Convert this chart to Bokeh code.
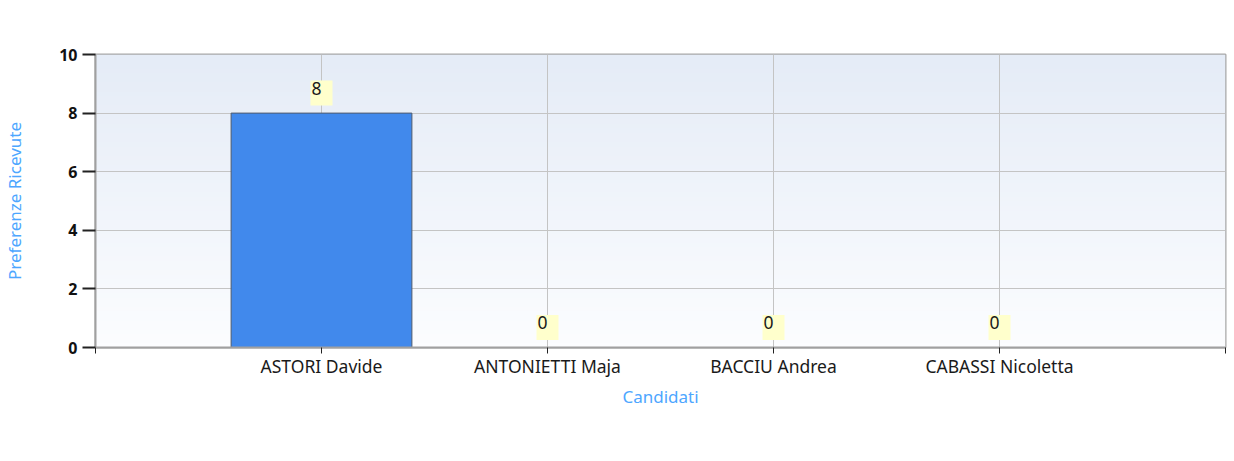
import numpy as np
from bokeh.plotting import figure
from bokeh.models import (ColumnDataSource, FixedTicker, Legend, LegendItem, Range1d, Label)
from bokeh.core.properties import value
from bokeh.embed import file_html
from bokeh.resources import INLINE

# ---- data ----
categories = ["ASTORI Davide", "ANTONIETTI Maja", "BACCIU Andrea", "CABASSI Nicoletta"]
votes = [8, 0, 0, 0]
y_ticks = [0, 2, 4, 6, 8, 10]
title_text = "Grafico dei Risultati"
x_title = "Candidati"
y_title = "Preferenze Ricevute"
series_name = "Voti Ricevuti"

FONT = "Noto Sans"
FS = "17.5px"
BLUE_T = "#4da6ff"
YMAX = 10

xs = list(range(1, len(categories) + 1))
src = ColumnDataSource(dict(x=xs, v=votes, lab=[str(v) for v in votes], name=categories))

p = figure(frame_width=1130, frame_height=293, output_backend="svg", toolbar_location=None,
           x_range=Range1d(0, len(categories) + 1), y_range=Range1d(0, YMAX),
           min_border_left=94, min_border_right=2, min_border_top=54, min_border_bottom=110)
p.title.visible = False
p.background_fill_color = "#ffffff"
p.border_fill_color = "#ffffff"
p.outline_line_color = "#a8a8a8"
p.outline_line_width = 2

# gradient background of plot area
n = 64
t = np.linspace(0, 1, n)[:, None]  # 0 bottom -> 1 top
top = np.array([229, 236, 247])
bot = np.array([252, 253, 255])
cols = (bot + (top - bot) * t).astype(np.uint32)
img = np.empty((n, 1), dtype=np.uint32)
view = img.view(dtype=np.uint8).reshape((n, 1, 4))
view[:, 0, 0] = cols[:, 0]
view[:, 0, 1] = cols[:, 1]
view[:, 0, 2] = cols[:, 2]
view[:, 0, 3] = 255
bg = p.image_rgba(image=[img], x=0, y=0, dw=len(categories) + 1, dh=YMAX)
bg.level = "image"

# title (centered over the whole chart, above the frame)
p.add_layout(Label(x=2.29, y=YMAX, y_offset=39, text=title_text, text_align="center",
                   text_baseline="middle", text_font=FONT, text_font_size=FS,
                   text_color="#1a1a1a"))

# bars
r = p.vbar(x="x", top="v", width=0.8, source=src, fill_color="#4189ec",
           line_color="#4f5b6c", line_width=1)

# value labels
p.text(x="x", y="v", text="lab", source=src, y_offset=-20,
       text_align="center", text_baseline="middle",
       text_font=value(FONT), text_font_size=FS, text_color="#1a1a1a",
       background_fill_color="#ffffcc", padding=[1, 11, 1, 11])

# axes
p.xaxis.ticker = FixedTicker(ticks=list(range(0, len(categories) + 2)))
p.xaxis.major_label_overrides = {0: "", len(categories) + 1: "", **{i + 1: c for i, c in enumerate(categories)}}
p.xaxis.major_label_text_font = FONT
p.xaxis.major_label_text_font_size = FS
p.xaxis.major_label_text_color = "#1a1a1a"
p.xaxis.major_tick_out = 6
p.xaxis.major_tick_in = 0
p.xaxis.minor_tick_line_color = None
p.xaxis.major_tick_line_color = "#222222"
p.xaxis.axis_line_color = "#a0a0a0"
p.xaxis.axis_line_width = 2
p.xaxis.major_label_standoff = 0
p.xaxis.axis_label = x_title
p.xaxis.axis_label_text_font = FONT
p.xaxis.axis_label_text_font_size = "17px"
p.xaxis.axis_label_text_font_style = "normal"
p.xaxis.axis_label_text_color = BLUE_T
p.xaxis.axis_label_standoff = 4

p.yaxis.ticker = FixedTicker(ticks=y_ticks)
p.yaxis.major_label_text_font = FONT
p.yaxis.major_label_text_font_size = "16px"
p.yaxis.major_label_text_font_style = "bold"
p.yaxis.major_label_text_color = "#111111"
p.yaxis.major_tick_out = 13
p.yaxis.major_tick_in = 0
p.yaxis.major_tick_line_width = 2
p.yaxis.major_tick_line_color = "#222222"
p.yaxis.minor_tick_line_color = None
p.yaxis.axis_line_color = "#a0a0a0"
p.yaxis.axis_line_width = 2
p.yaxis.major_label_standoff = 5
p.yaxis.axis_label = y_title
p.yaxis.axis_label_text_font = FONT
p.yaxis.axis_label_text_font_size = "17px"
p.yaxis.axis_label_text_font_style = "normal"
p.yaxis.axis_label_text_color = BLUE_T
p.yaxis.axis_label_standoff = 30

# grid
p.xgrid.ticker = FixedTicker(ticks=xs)
p.xgrid.grid_line_color = "#c4c4c4"
p.ygrid.grid_line_color = "#c4c4c4"

# legend (below the x-axis title, inside the bottom border)
leg = Legend(items=[LegendItem(label=series_name, renderers=[r])], location=(433, -110),
             orientation="horizontal", glyph_width=35, glyph_height=17, label_height=17,
             label_text_font=FONT, label_text_font_size="17px", label_text_font_style="bold",
             label_text_color="#111111", border_line_color=None, background_fill_alpha=0,
             padding=2, margin=0, label_standoff=7)
p.add_layout(leg, "center")

open("out.html", "w").write(file_html(p, INLINE))
